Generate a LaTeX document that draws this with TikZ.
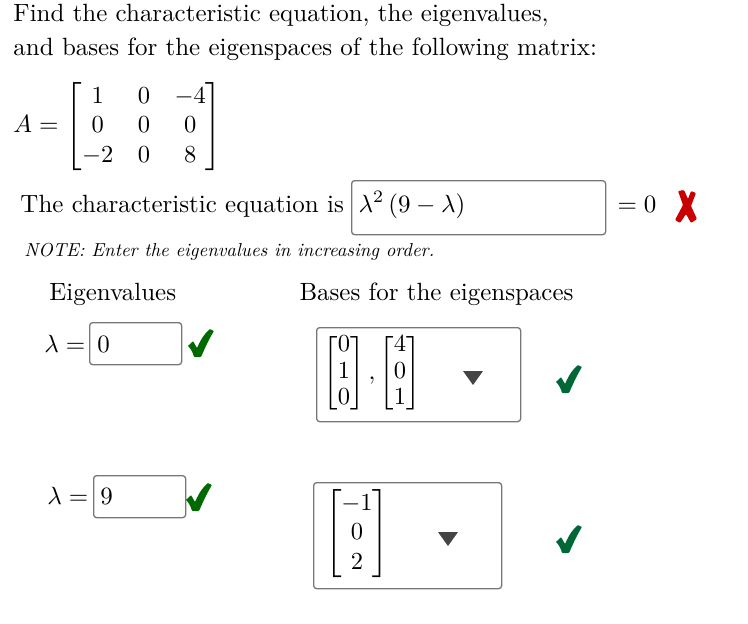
\documentclass[tikz,border=0pt]{standalone}
\usepackage{amsmath,amssymb,amsfonts}
\usepackage{xcolor}
\usepackage{tikz}
\definecolor{boxgray}{HTML}{777777}
\definecolor{arrowgray}{HTML}{444444}
\definecolor{okdark}{HTML}{006A00}
\definecolor{okteal}{HTML}{006837}
\definecolor{badred}{HTML}{C80000}
\tikzset{
  txt/.style={inner sep=0pt, anchor=base west, scale=2.495, transform shape, font=\fontsize{10}{12}\selectfont},
  mathtxt/.style={inner sep=0pt, scale=2.45, transform shape, font=\fontsize{10}{12}\selectfont},
  small/.style={inner sep=0pt, anchor=base west, scale=1.88, transform shape, font=\fontsize{10}{12}\selectfont\itshape},
  ansbox/.style={draw=boxgray, line width=1.3pt, rounded corners=3pt, inner sep=0pt, anchor=north west},
  ddarrow/.style={fill=arrowgray, draw=none},
}
\newcommand{\tickmark}[3]{\fill[#3, rounded corners=0.8pt, shift={(#1,#2)}] (0,17) -- (5,12) -- (9,19) .. controls (13,10) and (17,4) .. (22,0) -- (26,2) .. controls (21,10) and (17,19) .. (13,28) -- (6,28) .. controls (5,24) and (3,20) .. (0,17) -- cycle;}
\begin{document}
\begin{tikzpicture}[x=1pt, y=-1pt]
\useasboundingbox (0,0) rectangle (748,624);
\node[txt] (line1) at (13,21) {Find the characteristic equation, the eigenvalues,};
\node[txt] (line2) at (13,55) {and bases for the eigenspaces of the following matrix:};

\node[txt] (matA) at (13,132) {$A=$};
\node[mathtxt] (mat) at (144,127) {$\begin{bmatrix}1&0&-4\\0&0&0\\-2&0&8\end{bmatrix}$};

\node[txt] (chartxt) at (20,212) {The characteristic equation is};
\node[ansbox, minimum width=254pt, minimum height=54pt] (charbox) at (351,180) {};
\node[txt] (charans) at (358,212) {$\lambda^2\left(9-\lambda\right)$};
\node[txt] (eqzero) at (617,212) {$=0$};
\fill[badred, rounded corners=1pt] (678,191) -- (684,190) -- (688,199) -- (691,191) -- (696,193) -- (691,206) -- (697,219) -- (691,223) -- (686,214) -- (680,223) -- (675,220) -- (683,205) -- cycle;

\node[small] (note) at (24,256) {NOTE: Enter the eigenvalues in increasing order.};
\node[txt] (eighead) at (49,300) {Eigenvalues};
\node[txt] (bashead) at (299,300) {Bases for the eigenspaces};

\node[txt] (lam1) at (44,352) {$\lambda=$};
\node[ansbox, minimum width=92pt, minimum height=42pt] (box1) at (89,322) {};
\node[txt] (val1) at (97,352) {$0$};
\tickmark{188}{329}{okdark}

\node[ansbox, minimum width=204pt, minimum height=94pt] (basbox1) at (316,327) {};
\node[mathtxt] (bas1) at (372,373) {$\renewcommand{\arraystretch}{0.9}\begin{bmatrix}0\\1\\0\end{bmatrix},\begin{bmatrix}4\\0\\1\end{bmatrix}$};
\fill[ddarrow] (463,371) -- (483,371) -- (473,385) -- cycle;
\tickmark{556}{365}{okteal}

\node[txt] (lam2) at (47,504) {$\lambda=$};
\node[ansbox, minimum width=92pt, minimum height=42pt] (box2) at (93,475) {};
\node[txt] (val2) at (100,504) {$9$};
\tickmark{186}{483}{okdark}

\node[ansbox, minimum width=188pt, minimum height=106pt] (basbox2) at (313,482) {};
\node[mathtxt] (bas2) at (357,534) {$\begin{bmatrix}-1\\0\\2\end{bmatrix}$};
\fill[ddarrow] (438,532) -- (458,532) -- (448,546) -- cycle;
\tickmark{556}{525}{okteal}
\end{tikzpicture}
\end{document}
